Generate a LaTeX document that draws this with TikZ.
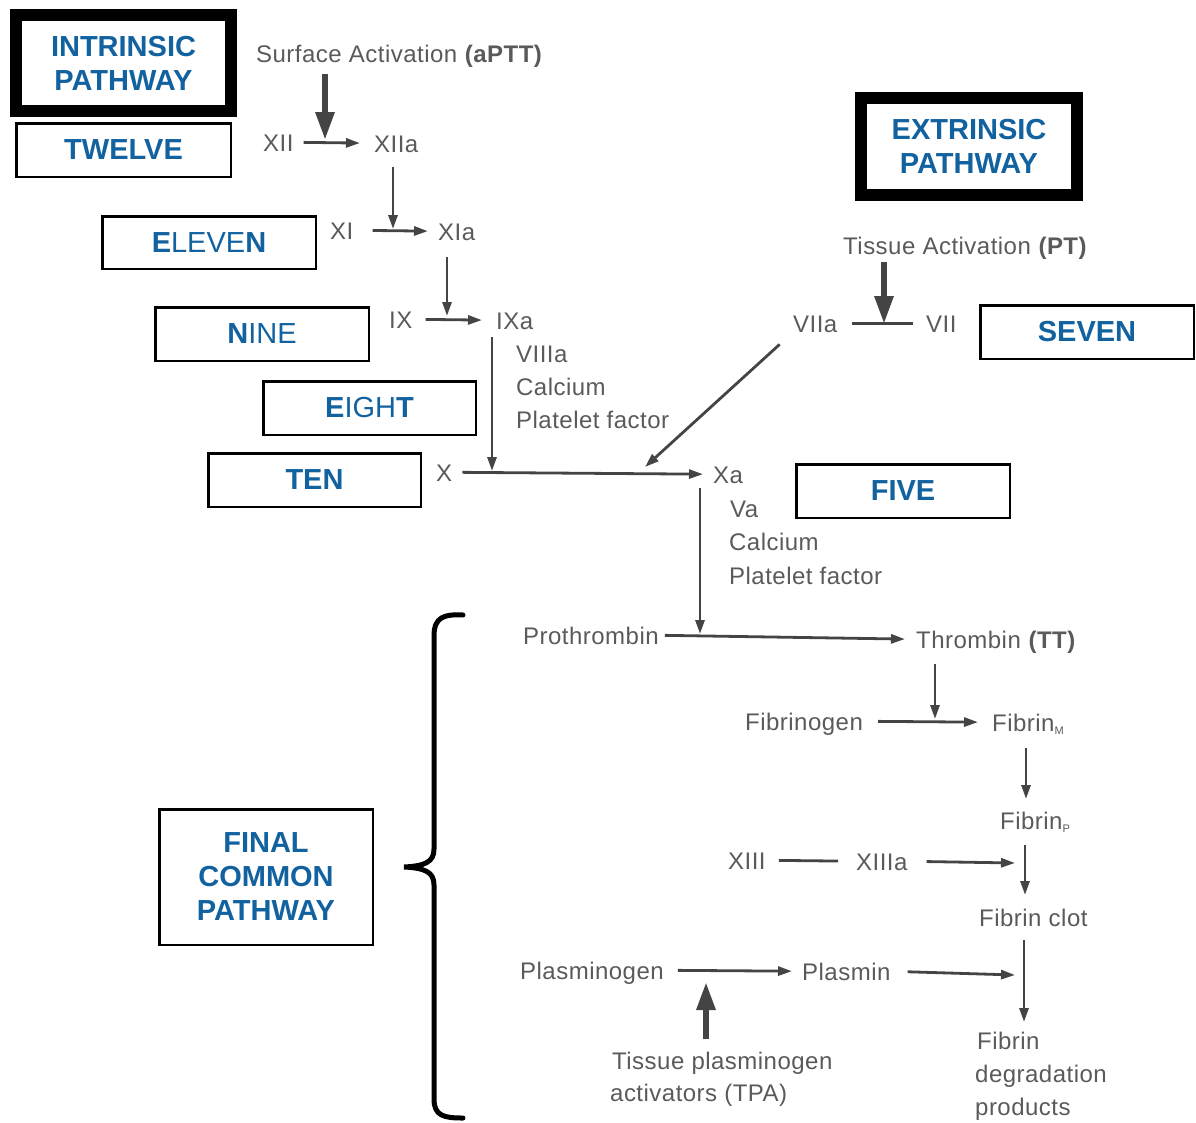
\documentclass[tikz,border=0pt]{standalone}
\usepackage{fontspec}
\setmainfont{Liberation Sans}
\newfontfamily\flowfont[LetterSpace=2.0]{Liberation Sans}
\usetikzlibrary{arrows.meta}

\definecolor{labelblue}{RGB}{18,98,160}
\definecolor{ink}{RGB}{68,68,68}
\definecolor{txt}{RGB}{90,90,90}

\begin{document}
\begin{tikzpicture}[x=1pt,y=-1pt,
  factor/.style={inner sep=0pt, anchor=base west, text=txt, text height=17.5pt, text depth=0pt,
    font=\flowfont\fontsize{24}{28}\selectfont},
  tag/.style={draw=black, line width=2.5pt, fill=white, text=labelblue, align=center,
    inner sep=0pt, font=\fontsize{29}{34}\selectfont\bfseries},
  headtag/.style={tag, line width=12pt},
  conn/.style={draw=ink, line width=2.8pt, -{Triangle[length=14pt,width=9pt]}},
  bar/.style={draw=ink, line width=2.8pt},
  bigarrow/.style={draw=ink, line width=6pt, -{Triangle[length=28pt,width=18pt]}}
]
\useasboundingbox (0,0) rectangle (1196,1122);

% ---- pathway labels ----
\node[headtag, minimum width=215pt, minimum height=96pt] (intr) at (123.5,63) {INTRINSIC\\PATHWAY};
\node[headtag, minimum width=216pt, minimum height=97pt] (extr) at (969,146.5) {EXTRINSIC\\PATHWAY};
\node[tag, minimum width=214.5pt, minimum height=53.5pt] (twelve) at (123.5,150) {TWELVE};
\node[tag, minimum width=213.5pt, minimum height=52.5pt] (eleven) at (209,242.5) {E{\mdseries LEVE}N};
\node[tag, minimum width=213.5pt, minimum height=53.5pt] (nine) at (262,334) {N{\mdseries INE}};
\node[tag, minimum width=212.5pt, minimum height=53.5pt] (eight) at (369.5,408) {E{\mdseries IGH}T};
\node[tag, minimum width=212.5pt, minimum height=53.5pt] (ten) at (314.5,480) {TEN};
\node[tag, minimum width=213.5pt, minimum height=53.5pt] (seven) at (1087,332) {SEVEN};
\node[tag, minimum width=213.5pt, minimum height=53.5pt] (five) at (903,491) {FIVE};
\node[tag, minimum width=213.5pt, minimum height=135.5pt] (final) at (266,877) {FINAL\\COMMON\\PATHWAY};

% ---- intrinsic branch ----
\node[factor] (surf) at (256,62) {Surface Activation \textbf{(aPTT)}};
\node[factor] (XII) at (263,151) {XII};
\node[factor] (XIIa) at (374,152) {XIIa};
\node[factor] (XI) at (330,239) {XI};
\node[factor] (XIa) at (438,240) {XIa};
\node[factor] (IX) at (389,328) {IX};
\node[factor] (IXa) at (496,329) {IXa};
\node[factor] (cof8a) at (516,362) {VIIIa};
\node[factor] (cof8b) at (516,395) {Calcium};
\node[factor] (cof8c) at (516,428) {Platelet factor};
\node[factor] (X) at (436,481) {X};
\node[factor] (Xa) at (713,483) {Xa};
\node[factor] (cof5a) at (730,517) {Va};
\node[factor] (cof5b) at (729,550) {Calcium};
\node[factor] (cof5c) at (729,584) {Platelet factor};

% ---- extrinsic branch ----
\node[factor] (tiss) at (843,254) {Tissue Activation \textbf{(PT)}};
\node[factor] (VIIa) at (793,332) {VIIa};
\node[factor] (VII) at (926,332) {VII};

% ---- common pathway ----
\node[factor] (proth) at (523,644) {Prothrombin};
\node[factor] (thromb) at (916,648) {Thrombin \textbf{(TT)}};
\node[factor] (fgen) at (745,730) {Fibrinogen};
\node[factor] (fibM) at (992,731) {Fibrin\raisebox{-3pt}{\fontsize{11}{11}\selectfont M}};
\node[factor] (fibP) at (1000,829) {Fibrin\raisebox{-3pt}{\fontsize{11}{11}\selectfont P}};
\node[factor] (XIII) at (728,869) {XIII};
\node[factor] (XIIIa) at (856,870) {XIIIa};
\node[factor] (clot) at (979,926) {Fibrin clot};
\node[factor] (plgen) at (520,979) {Plasminogen};
\node[factor] (plasmin) at (802,980) {Plasmin};
\node[factor] (tpa1) at (612,1069) {Tissue plasminogen};
\node[factor] (tpa2) at (610,1101) {activators (TPA)};
\node[factor] (fdp1) at (977,1049) {Fibrin};
\node[factor] (fdp2) at (975,1082) {degradation};
\node[factor] (fdp3) at (975,1115) {products};

% ---- junctions where arrows meet reaction lines ----
\coordinate (j12) at (325,140);
\coordinate (j11) at (393,229);
\coordinate (j9) at (447,316);
\coordinate (jX) at (492,471);
\coordinate (jd) at (645,467);
\coordinate (jt) at (884,324);
\coordinate (jP) at (700,634);
\coordinate (jF) at (935,719);
\coordinate (jM) at (1026,799);
\coordinate (jC) at (1025,895);
\coordinate (jx13) at (1015,863);
\coordinate (jD) at (1024,1022);
\coordinate (jpl) at (1015,975);
\coordinate (jT) at (706,982);

% ---- intrinsic cascade ----
\draw[bigarrow, shorten <=12pt] (surf.south -| j12) -- (j12);
\draw[conn, shorten <=10pt, shorten >=14pt] (XII.east) -- (XIIa.west);
\draw[conn, shorten <=15pt] (XIIa.south -| j11) -- (j11);
\draw[conn, shorten <=19pt, shorten >=10pt] (XI.east) -- (XIa.west);
\draw[conn, shorten <=17pt] (XIa.south -| j9) -- (j9);
\draw[conn, shorten <=13pt, shorten >=14pt] (IX.east) -- (IXa.west);
\draw[conn, shorten <=8pt] (IXa.south -| jX) -- (jX);
\draw[conn, shorten <=10pt, shorten >=10pt] (X.east) -- (Xa.west);

% ---- extrinsic cascade ----
\draw[bigarrow, shorten <=8pt] (tiss.south -| jt) -- (jt);
\draw[bar, shorten <=14pt, shorten >=13pt] (VIIa.east) -- (VII.west);
\draw[conn, shorten <=18pt] (VIIa.south west) -- (jd);

% ---- common pathway ----
\draw[conn, shorten <=5pt] (Xa.south -| jP) -- (jP);
\draw[conn, shorten <=6pt, shorten >=11pt] (proth.east) -- (thromb.west);
\draw[conn, shorten <=16pt] (thromb.south -| jF) -- (jF);
\draw[conn, shorten <=15pt, shorten >=14pt] (fgen.east) -- (fibM.west);
\draw[conn, shorten <=17pt] (fibM.south -| jM) -- (jM);
\draw[conn, shorten <=16pt] (fibP.south -| jC) -- (jC);
\draw[bar, shorten <=13pt, shorten >=18pt] (XIII.east) -- (XIIIa.west);
\draw[conn, shorten <=19pt] (XIIIa.east) -- (jx13);
\draw[conn, shorten <=14pt] (clot.south -| jD) -- (jD);
\draw[conn, shorten <=14pt, shorten >=10pt] (plgen.east) -- (plasmin.west);
\draw[conn, shorten <=17pt] (plasmin.east) -- (jpl);
\draw[bigarrow, shorten <=12pt] (tpa1.north -| jT) -- (jT);

% ---- brace grouping the common pathway ----
\draw[black, line width=5pt, line cap=round]
  (463,615) .. controls (444,614) and (434,617) .. (434,636)
  -- (434,849) .. controls (434,862) and (425,866) .. (404,867)
  .. controls (425,868) and (434,872) .. (434,885)
  -- (434,1099) .. controls (434,1116) and (444,1118) .. (463,1118);
\end{tikzpicture}
\end{document}
